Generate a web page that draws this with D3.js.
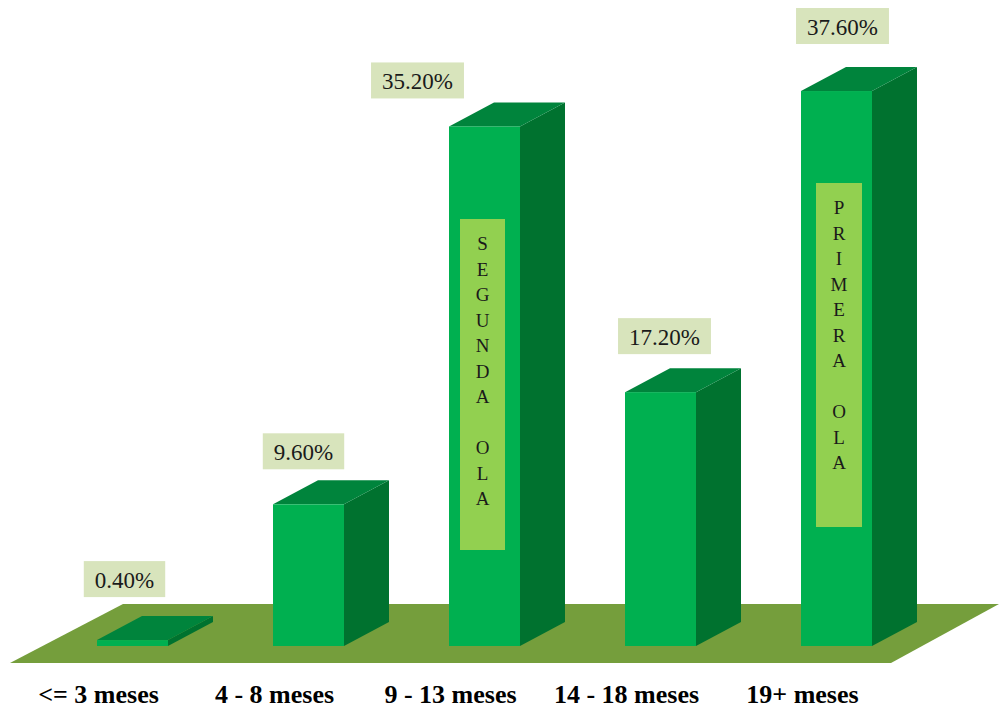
<!DOCTYPE html>
<html>
<head>
<meta charset="utf-8">
<script src="https://cdn.jsdelivr.net/npm/d3@7"></script>
<style>
  html, body { margin: 0; padding: 0; background: #ffffff; }
  svg { display: block; }
</style>
</head>
<body>
<div id="chart"></div>
<script>
// Share of cases by time since infection
const categories = ["<= 3 meses", "4 - 8 meses", "9 - 13 meses", "14 - 18 meses", "19+ meses"];
const values = [0.4, 9.6, 35.2, 17.2, 37.6];
const valueLabels = ["0.40%", "9.60%", "35.20%", "17.20%", "37.60%"];

// Vertical callouts inside two bars
const calloutBars = ["9 - 13 meses", "19+ meses"];
const calloutTexts = ["SEGUNDA OLA", "PRIMERA OLA"];

// Hand-placed nudges for the value tags: [dx from bar centre, gap above bar top]
const tagNudge = [[-8, 43], [-5, 35], [-67, 28], [4, 38], [6, 47]];
// Callout box placement: [left inset, width, top, bottom] in px
const calloutBox = [[11, 45, 219, 550], [15, 46, 183, 527]];

const W = 999, H = 711;
const baseY = 646;            // front edge of the bar bases
const depthX = 45, depthY = -24;

const colFront = "#00b050", colTop = "#00843c", colSide = "#00722f";
const colFloor = "#759e3c", colTag = "#d8e4bc", colCallout = "#92d050";

const svg = d3.select("#chart").append("svg")
  .attr("width", W).attr("height", H);

const x = d3.scaleBand()
  .domain(categories)
  .range([9, 960])
  .paddingInner(0.5966)
  .paddingOuter(0.5);

const y = d3.scaleLinear()
  .domain([0, 40])
  .range([baseY, baseY - 40 * 14.76]);

// Floor plane
const floor = [[10, 663], [891, 663], [999, 604], [123, 604]];
svg.append("path")
  .attr("d", d3.line()(floor) + "Z")
  .attr("fill", colFloor);

const bw = x.bandwidth();
const bars = svg.append("g").selectAll("g")
  .data(categories.map((c, i) => ({ c, v: values[i], i })))
  .join("g");

// Right side face
bars.append("path")
  .attr("fill", colSide)
  .attr("d", d => {
    const x1 = x(d.c) + bw, yt = y(d.v);
    return d3.line()([[x1, yt], [x1 + depthX, yt + depthY], [x1 + depthX, baseY + depthY], [x1, baseY]]) + "Z";
  });

// Top face
bars.append("path")
  .attr("fill", colTop)
  .attr("d", d => {
    const x0 = x(d.c), x1 = x0 + bw, yt = y(d.v);
    return d3.line()([[x0, yt], [x1, yt], [x1 + depthX, yt + depthY], [x0 + depthX, yt + depthY]]) + "Z";
  });

// Front face
bars.append("rect")
  .attr("fill", colFront)
  .attr("x", d => x(d.c))
  .attr("y", d => y(d.v))
  .attr("width", bw)
  .attr("height", d => baseY - y(d.v));

// Value tags
const tags = svg.append("g").selectAll("g")
  .data(categories.map((c, i) => ({ c, v: values[i], i })))
  .join("g");

tags.each(function (d) {
  const g = d3.select(this);
  const cx = x(d.c) + bw / 2 + tagNudge[d.i][0];
  const bottom = y(d.v) - tagNudge[d.i][1];
  const t = g.append("text")
    .attr("x", cx)
    .attr("y", bottom - 9)
    .attr("text-anchor", "middle")
    .attr("font-family", "'Liberation Serif', 'Times New Roman', serif")
    .attr("font-size", 23)
    .attr("fill", "#1a1a1a")
    .text(valueLabels[d.i]);
  const tw = t.node().getComputedTextLength();
  const bwid = tw + 22;
  g.insert("rect", "text")
    .attr("x", cx - bwid / 2)
    .attr("y", bottom - 36)
    .attr("width", bwid)
    .attr("height", 36)
    .attr("fill", colTag);
});

// Vertical callouts
calloutBars.forEach((c, k) => {
  const [inset, w, top, bot] = calloutBox[k];
  const left = x(c) + inset;
  const g = svg.append("g");
  g.append("rect")
    .attr("x", left).attr("y", top)
    .attr("width", w).attr("height", bot - top)
    .attr("fill", colCallout);
  const chars = Array.from(calloutTexts[k]);
  g.selectAll("text")
    .data(chars)
    .join("text")
    .attr("x", left + w / 2)
    .attr("y", (ch, j) => top + 31 + j * 25.5)
    .attr("text-anchor", "middle")
    .attr("font-family", "'Liberation Serif', 'Times New Roman', serif")
    .attr("font-size", 19)
    .attr("fill", "#1a1a1a")
    .text(ch => ch);
});

// Category axis labels
svg.append("g").selectAll("text")
  .data(categories)
  .join("text")
  .attr("x", d => x(d) + bw / 2 - 34)
  .attr("y", 703)
  .attr("text-anchor", "middle")
  .attr("font-family", "'Liberation Serif', 'Times New Roman', serif")
  .attr("font-weight", "bold")
  .attr("font-size", 26)
  .attr("fill", "#000")
  .text(d => d);
</script>
</body>
</html>
